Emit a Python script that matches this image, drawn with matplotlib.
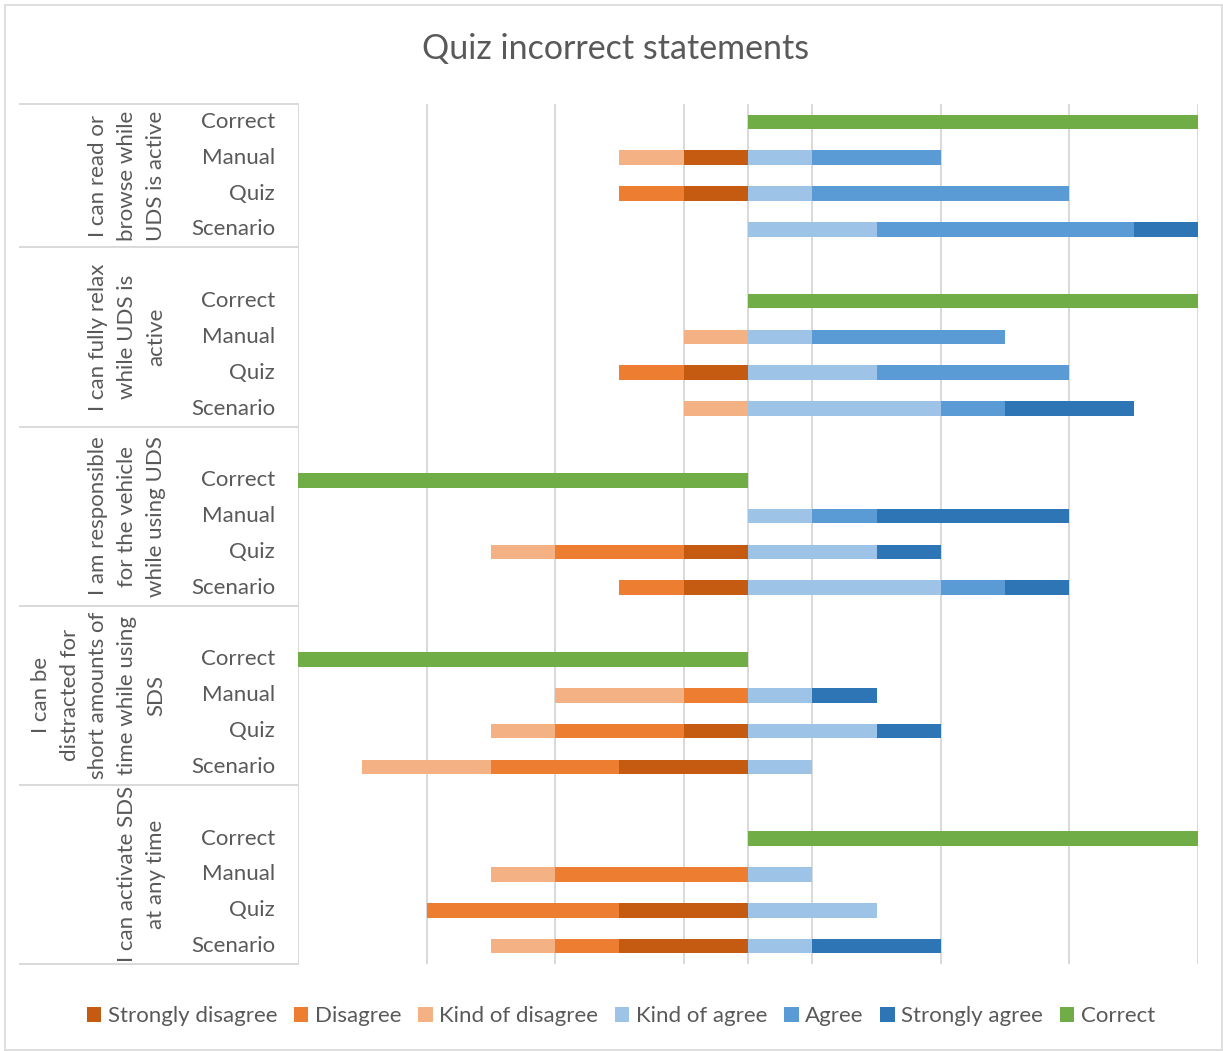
import numpy as np
import matplotlib.pyplot as plt
from matplotlib.patches import Patch, Rectangle
import matplotlib.transforms as mtransforms

plt.rcParams['font.family'] = ['Lato', 'DejaVu Sans']

groups = ['I can read or\nbrowse while\nUDS is active',
          'I can fully relax\nwhile UDS is\nactive',
          'I am responsible\nfor the vehicle\nwhile using UDS',
          'I can be\ndistracted for\nshort amounts of\ntime while using\nSDS',
          'I can activate SDS\nat any time']
conditions = ['Correct', 'Manual', 'Quiz', 'Scenario']

# one value per (group, condition), same order as above
strongly_disagree = [0, 1, 1, 0, 0, 0, 1, 0, 0, 0, 1, 1, 0, 0, 1, 2, 0, 0, 2, 2]
disagree          = [0, 0, 1, 0, 0, 0, 1, 0, 0, 0, 2, 1, 0, 1, 2, 2, 0, 3, 3, 1]
kind_disagree     = [0, 1, 0, 0, 0, 1, 0, 1, 0, 0, 1, 0, 0, 2, 1, 2, 0, 1, 0, 1]
kind_agree        = [0, 1, 1, 2, 0, 1, 2, 3, 0, 1, 2, 3, 0, 1, 2, 1, 0, 1, 2, 1]
agree             = [0, 2, 4, 4, 0, 3, 3, 1, 0, 1, 0, 1, 0, 0, 0, 0, 0, 0, 0, 0]
strongly_agree    = [0, 0, 0, 1, 0, 0, 0, 2, 0, 3, 1, 1, 0, 1, 1, 0, 0, 0, 0, 2]
correct           = [7, 0, 0, 0, 7, 0, 0, 0, -7, 0, 0, 0, -7, 0, 0, 0, 7, 0, 0, 0]

colors = {'Strongly disagree': '#C55A11', 'Disagree': '#ED7D31',
          'Kind of disagree': '#F4B183', 'Kind of agree': '#9DC3E6',
          'Agree': '#5B9BD5', 'Strongly agree': '#2E75B6', 'Correct': '#70AD47'}
txt = '#595959'
grid = '#D9D9D9'

# row positions: first group 4 rows, later groups have an empty row on top
pos = []
r = 0
for g in range(len(groups)):
    if g > 0:
        r += 1
    for c in conditions:
        pos.append(r)
        r += 1
pos = np.array(pos)
nrows = r

fig = plt.figure(figsize=(12.23, 10.51), dpi=100)
ax = fig.add_axes([298 / 1223, 1 - 964 / 1051, 900 / 1223, 860 / 1051])

h = 0.41
left = np.zeros(len(pos))
for name, vals in [('Strongly disagree', strongly_disagree), ('Disagree', disagree),
                   ('Kind of disagree', kind_disagree)]:
    v = np.array(vals)
    ax.barh(pos, -v, left=left, height=h, color=colors[name], zorder=3)
    left -= v
right = np.zeros(len(pos))
for name, vals in [('Kind of agree', kind_agree), ('Agree', agree),
                   ('Strongly agree', strongly_agree)]:
    v = np.array(vals)
    ax.barh(pos, v, left=right, height=h, color=colors[name], zorder=3)
    right += v
ax.barh(pos, correct, height=h, color=colors['Correct'], zorder=3)

ax.set_xlim(-7, 7)
ax.set_ylim(nrows - 0.5, -0.5)
for xv in [-7, -5, -3, -1, 0, 1, 3, 5, 7]:
    ax.axvline(xv, color=grid, lw=1.4, zorder=1)
for s in ax.spines.values():
    s.set_visible(False)
ax.set_xticks([])
ax.set_yticks([])

# multi-level category labels
trans = mtransforms.blended_transform_factory(ax.transAxes, ax.transData)
xl = -(298 - 20) / 900
bounds = [-0.5]
for g in range(len(groups)):
    rows = pos[g * 4:(g + 1) * 4]
    bounds.append(rows[-1] + 0.5)
for b in bounds:
    ax.plot([xl, 0], [b, b], transform=trans, color=grid, lw=1.4, clip_on=False)

for p, lab in zip(pos, conditions * len(groups)):
    ax.text(-(298 - 275) / 900, p, lab, transform=trans, ha='right', va='center',
            fontsize=16, color=txt)
for g, lab in enumerate(groups):
    yc = (bounds[g] + bounds[g + 1]) / 2
    ax.text(-(298 - 166) / 900, yc, lab, transform=trans, rotation=90,
            ha='right', va='center', multialignment='center',
            fontsize=16, color=txt, linespacing=1.55)

fig.text(616 / 1223, 1 - 49 / 1051, 'Quiz incorrect statements', ha='center',
         va='center', fontsize=24.5, color=txt)

handles = [Patch(facecolor=colors[k], label=k) for k in colors]
fig.legend(handles=handles, loc='center', bbox_to_anchor=(621 / 1223, 1 - 1016 / 1051),
           ncol=7, frameon=False, fontsize=16, labelcolor=txt,
           handlelength=0.65, handleheight=0.65, handletextpad=0.3, columnspacing=0.75)

fig.patches.append(Rectangle((5 / 1223, 1 / 1051), 1217 / 1223, 1045 / 1051,
                             transform=fig.transFigure, fill=False,
                             edgecolor=grid, lw=1.2))

fig.savefig('out.png', dpi=100)
